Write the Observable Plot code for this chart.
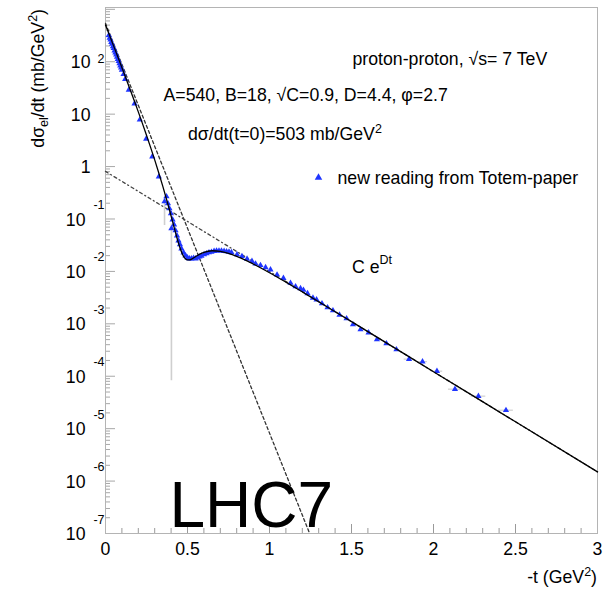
<!DOCTYPE html>
<html>
<head>
<meta charset="utf-8">
<script src="https://cdn.jsdelivr.net/npm/d3@7"></script>
<script src="https://cdn.jsdelivr.net/npm/@observablehq/plot@0.6"></script>
<style>
  html, body { margin: 0; padding: 0; background: #fff; }
</style>
</head>
<body>
<div id="chart"></div>
<script>
// ---------- data ----------
// TOTEM data points ("new reading from Totem-paper"): -t (GeV^2) and dsigma/dt (mb/GeV^2)
const dataT = [0.020,0.025,0.030,0.035,0.040,0.045,0.050,0.055,0.060,0.065,0.070,0.075,0.080,0.085,0.090,0.095,0.100,0.110,0.120,0.142,0.177,0.209,0.248,0.285,0.325,
  0.360,0.402,
  0.372,0.381,0.390,0.399,0.409,0.418,0.427,0.436,0.445,0.454,0.463,0.476,0.488,0.500,0.512,0.524,0.537,0.549,0.561,0.573,0.585,0.601,0.616,0.631,0.646,0.662,0.677,0.692,0.707,0.723,0.738,0.753,
  0.768,0.802,0.832,0.863,0.893,0.915,0.945,0.976,1.006,1.046,1.085,1.128,1.159,1.189,1.207,1.232,1.265,1.287,1.320,1.354,1.387,1.427,1.470,1.509,1.555,1.604,1.655,1.713,1.774,1.851,1.933,2.021,2.131,2.274,2.442];
const dataV = [319,285,262,236,218,196,181,163,148,136,123,112,102,92.6,84.2,76.7,69.7,57.6,46.5,29.0,15.9,7.8,3.38,1.55,0.644,
  0.215,0.0656,
  0.268,0.197,0.158,0.127,0.0974,0.0782,0.0601,0.0482,0.0387,0.0325,0.0272,0.0228,0.0200,0.01834,0.01755,0.01755,0.01794,0.0175,0.0182,0.0190,0.0198,0.0211,0.0220,0.0229,0.0235,0.0243,0.0248,0.0248,0.0247,0.0244,0.0240,0.0236,
  0.0231,0.0210,0.0195,0.0173,0.0157,0.0140,0.0131,0.0119,0.0108,0.00865,0.00745,0.00602,0.00515,0.00475,0.00442,0.00380,0.00312,0.00290,0.00244,0.00205,0.00179,0.00148,0.00126,0.00097,0.00078,0.00068,0.000502,0.000421,0.000323,0.000212,0.000190,0.000125,0.0000567,0.0000417,0.0000225];

// large vertical error bars near the dip
const errT  = [0.360, 0.402];
const errLo = [0.075, 0.000082];
const errHi = [0.256, 0.080];

// horizontal error bars on the tail points
const hErrT  = [1.851, 1.933, 2.021, 2.131, 2.274, 2.442];
const hErrV  = [0.000212, 0.000190, 0.000125, 0.0000567, 0.0000417, 0.0000225];
const hErrDT = [0.030, 0.030, 0.035, 0.040, 0.045, 0.045];

// full fit curve (solid)
const fitT = [0,0.025,0.05,0.075,0.1,0.125,0.15,0.175,0.2,0.225,0.25,0.275,0.3,0.325,0.35,0.375,0.4,0.425,0.45,0.475,0.4875,0.5,0.5125,0.525,0.55,0.575,0.6,0.65,0.7,0.75,0.8,0.85,0.9,0.95,1.0,1.1,1.2,1.5,2.0,2.5,3.0];
const fitV = [503,316.4,198.6,124.3,77.45,48.06,29.66,18.19,11.06,6.665,3.970,2.328,1.341,0.756,0.4149,0.2205,0.1139,0.0579,0.0309,0.0196,0.01739,0.01653,0.01656,0.01718,0.01922,0.02136,0.02317,0.02480,0.02416,0.02211,0.01942,0.01659,0.01390,0.0115,0.009434,0.00623,0.00407,0.0011,0.0001221,0.00001353,0.0000015];

// A e^{Bt} component (dashed) and C e^{Dt} component (dash-dot)
const compAT = [0, 1.245];
const compAV = [540, 1e-7];
const compCT = [0, 3];
const compCV = [0.81, 1.5e-6];

// axis ticks
const xMajor = [0, 0.5, 1, 1.5, 2, 2.5, 3];
const xMajorLabels = ["0", "0.5", "1", "1.5", "2", "2.5", "3"];
const xMinor = [0.1,0.2,0.3,0.4,0.6,0.7,0.8,0.9,1.1,1.2,1.3,1.4,1.6,1.7,1.8,1.9,2.1,2.2,2.3,2.4,2.6,2.7,2.8,2.9];
const yTickExp = [2, 1, 0, -1, -2, -3, -4, -5, -6, -7];
const yMajorExp = [3, 2, 1, 0, -1, -2, -3, -4, -5, -6, -7];
const yMinorMult = [2, 3, 4, 5, 6, 7, 8, 9];

// ---------- build ----------
const FONT = "'Liberation Sans', Arial, Helvetica, sans-serif";
const FS = 17.7;
const W = 612, H = 592;
const mL = 105, mR = 15, mT = 7, mB = 59;
const frameW = W - mL - mR, frameH = H - mT - mB;

const points = dataT.map((t, i) => ({t, v: dataV[i]}));
const fit = fitT.map((t, i) => ({t, v: fitV[i]}));
const compA = compAT.map((t, i) => ({t, v: compAV[i]}));
const compC = compCT.map((t, i) => ({t, v: compCV[i]}));
const errs = errT.map((t, i) => ({t, lo: errLo[i], hi: errHi[i]}));
const hErrs = hErrT.map((t, i) => ({t, v: hErrV[i], dt: hErrDT[i]}));
const yMajor = yMajorExp.map(e => Math.pow(10, e));
const yMinor = [];
for (let e = -7; e <= 2; e++) for (const m of yMinorMult) yMinor.push(m * Math.pow(10, e));

const BLUE = "#1f35ff";

const chart = Plot.plot({
  width: W, height: H,
  marginLeft: mL, marginRight: mR, marginTop: mT, marginBottom: mB,
  style: {fontFamily: FONT, fontSize: FS + "px", background: "#fff"},
  x: {domain: [0, 3], axis: null},
  y: {type: "log", domain: [1e-7, 1083], axis: null},
  marks: [
    // axis ticks (inward, ROOT style)
    Plot.tickX(xMinor, {x: d => d, insetTop: frameH - 5, stroke: "#9a9a9a"}),
    Plot.tickX(xMajor, {x: d => d, insetTop: frameH - 9, stroke: "#9a9a9a"}),
    Plot.tickY(yMinor, {y: d => d, insetRight: frameW - 5, stroke: "#a8a8a8"}),
    Plot.tickY(yMajor, {y: d => d, insetRight: frameW - 10, stroke: "#a8a8a8"}),
    Plot.frame({stroke: "#b4b4b4"}),
    // components
    Plot.line(compA, {x: "t", y: "v", stroke: "#333", strokeWidth: 1.3, strokeDasharray: "3,2.5"}),
    Plot.line(compC, {x: "t", y: "v", stroke: "#444", strokeWidth: 1.3, strokeDasharray: "3,3,1,3"}),
    // error bars
    Plot.ruleX(errs, {x: "t", y1: "lo", y2: "hi", stroke: "#cfcfcf", strokeWidth: 1.6}),
    Plot.ruleY(hErrs, {y: "v", x1: d => d.t - d.dt, x2: d => d.t + d.dt, stroke: "#cfcfcf", strokeWidth: 1.2}),
    // data
    Plot.dot(points, {x: "t", y: "v", symbol: "triangle", r: 2.3, fill: BLUE, stroke: "none"}),
    // full fit
    Plot.line(fit, {x: "t", y: "v", stroke: "#000", strokeWidth: 1.3, curve: "monotone-x"}),
    // x tick labels
    Plot.text(xMajor, {x: d => d, frameAnchor: "bottom", dy: 21, lineAnchor: "bottom", text: (d, i) => xMajorLabels[i], fontSize: FS}),
    // y tick labels: base "10" / "1" and exponent
    Plot.text(yTickExp, {y: e => Math.pow(10, e), frameAnchor: "left", textAnchor: "end",
      text: e => (e === 0 ? "1" : "10"), fontSize: FS, dx: -15, filter: e => e >= 0, dy: 1}),
    Plot.text(yTickExp, {y: e => Math.pow(10, e), frameAnchor: "left", textAnchor: "end",
      text: e => "10", fontSize: FS, dx: -20, filter: e => e < 0, dy: 1}),
    Plot.text(yTickExp, {y: e => Math.pow(10, e), frameAnchor: "left", textAnchor: "end",
      text: e => String(e), fontSize: 12.5, dx: -1, filter: e => e < 0, dy: -14}),
    Plot.text(yTickExp, {y: e => Math.pow(10, e), frameAnchor: "left", textAnchor: "end",
      text: e => String(e), fontSize: 12.5, dx: -1, filter: e => e === 2, dy: -3}),
    // annotations
    Plot.text(["proton-proton, √s= 7 TeV"], {frameAnchor: "top-left", text: d => d, textAnchor: "start", lineAnchor: "bottom", dx: 352 - mL, dy: 64 - mT, fontSize: FS}),
    Plot.text(["A=540, B=18, √C=0.9, D=4.4, φ=2.7"], {frameAnchor: "top-left", text: d => d, textAnchor: "start", lineAnchor: "bottom", dx: 163 - mL, dy: 100 - mT, fontSize: FS}),
    Plot.dot(["legend"], {frameAnchor: "top-left", dx: 318 - mL, dy: 177 - mT, symbol: "triangle", r: 2.8, fill: BLUE}),
    Plot.text(["new reading from Totem-paper"], {frameAnchor: "top-left", text: d => d, textAnchor: "start", lineAnchor: "bottom", dx: 337 - mL, dy: 183 - mT, fontSize: FS}),
    Plot.text(["LHC7"], {frameAnchor: "top-left", text: d => d, textAnchor: "start", lineAnchor: "bottom", dx: 169 - mL, dy: 526 - mT, fontSize: 64})
  ]
});
document.getElementById("chart").appendChild(chart);

// rich text (sub/superscripts)
const svg = d3.select(chart);
function rich(x, y, parts, opts = {}) {
  const t = svg.append("text")
    .attr("x", x).attr("y", y)
    .attr("font-family", FONT).attr("font-size", FS)
    .attr("fill", "#000")
    .attr("text-anchor", opts.anchor || "start");
  if (opts.transform) t.attr("transform", opts.transform).attr("x", 0).attr("y", 0);
  let shift = 0;
  for (const p of parts) {
    const s = t.append("tspan").text(p.text);
    const target = p.sup ? -p.sup : p.sub ? p.sub : 0;
    s.attr("dy", target - shift);
    shift = target;
    if (p.sup || p.sub) s.attr("font-size", p.size || 12.5);
  }
  return t;
}
// y axis title
rich(0, 0, [
  {text: "dσ"}, {text: "el", sub: 4}, {text: "/dt (mb/GeV"}, {text: "2", sup: 7}, {text: ")"}
], {anchor: "end", transform: "translate(44,9) rotate(-90)"});
// x axis title
rich(597, 583, [{text: "-t (GeV"}, {text: "2", sup: 7}, {text: ")"}], {anchor: "end"});
// dsigma/dt(t=0)
rich(188, 140, [{text: "dσ/dt(t=0)=503 mb/GeV"}, {text: "2", sup: 7}]);
// C e^{Dt}
rich(352, 273, [{text: "C e"}, {text: "Dt", sup: 9}]);
</script>
</body>
</html>
